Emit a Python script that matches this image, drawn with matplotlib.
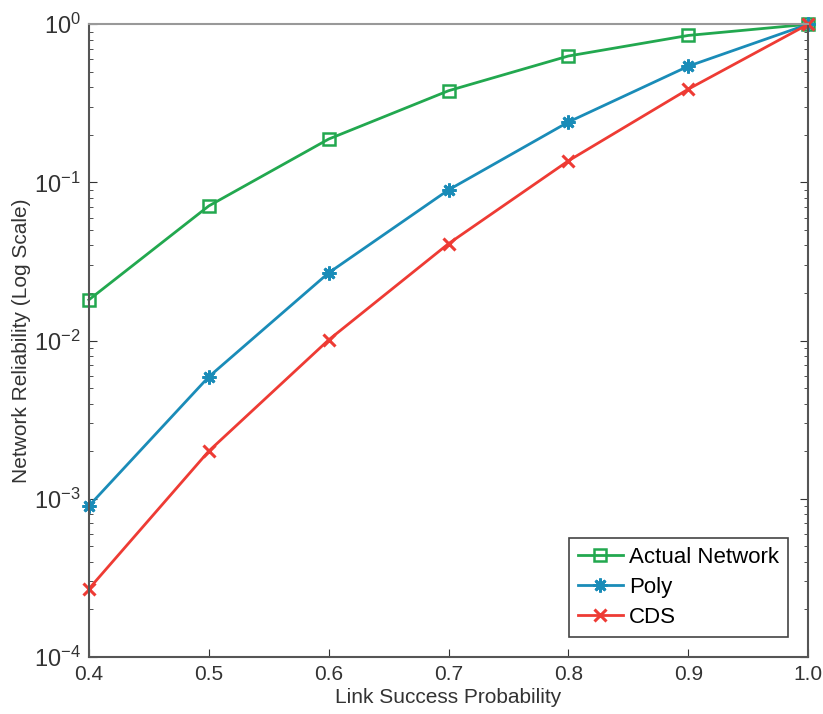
import matplotlib
matplotlib.use("Agg")
import matplotlib.pyplot as plt

plt.rcParams['font.family'] = ['Liberation Sans', 'DejaVu Sans']

x = [0.4, 0.5, 0.6, 0.7, 0.8, 0.9, 1.0]
actual = [0.0181, 0.071, 0.188, 0.38, 0.63, 0.85, 1.0]
poly = [0.0009, 0.0059, 0.0268, 0.0897, 0.241, 0.543, 1.0]
cds = [0.000269, 0.002, 0.0101, 0.041, 0.137, 0.389, 1.0]

xticks = [0.4, 0.5, 0.6, 0.7, 0.8, 0.9, 1.0]
xticklabels = ["0.4", "0.5", "0.6", "0.7", "0.8", "0.9", "1.0"]

fig = plt.figure(figsize=(8.23, 7.14), dpi=100)
ax = fig.add_axes([0.108, 0.080, 0.874, 0.886])

ax.plot(x, actual, color='#22a84f', lw=2, marker='s', ms=9, mfc='none', mew=1.8, label='Actual Network', clip_on=False)
ax.plot(x, poly, color='#1a8cb8', lw=2, marker=(8, 2, 0), ms=10, mew=2, label='Poly', clip_on=False)
ax.plot(x, cds, color='#ee3b34', lw=2, marker='x', ms=8, mew=2.2, label='CDS', clip_on=False)

ax.set_yscale('log')
ax.set_ylim(1e-4, 1)
ax.set_xlim(0.4, 1.0)
ax.set_xticks(xticks)
ax.set_xticklabels(xticklabels)
ax.tick_params(direction='in', which='both', labelsize=15, colors='#333333', pad=6)
ax.tick_params(axis='y', which='major', labelsize=17, pad=6)
ax.tick_params(which='major', length=6)
ax.tick_params(which='minor', length=3)
ax.tick_params(axis='y', right=True, which='both')
ax.tick_params(axis='x', top=False)
for s in ax.spines.values():
    s.set_color('#555555')
    s.set_linewidth(1.5)
ax.spines['top'].set_color('#999999')

ax.set_xlabel('Link Success Probability', fontsize=15, color='#333333', labelpad=3)
ax.set_ylabel('Network Reliability (Log Scale)', fontsize=15, color='#333333', labelpad=2)

leg = ax.legend(loc='lower right', fontsize=16, fancybox=False, framealpha=1,
                edgecolor='#444444', borderpad=0.4, labelspacing=0.4,
                handlelength=2.0, handletextpad=0.3, borderaxespad=0.9)
leg.get_frame().set_linewidth(1.2)

fig.savefig('out.png', dpi=100)
